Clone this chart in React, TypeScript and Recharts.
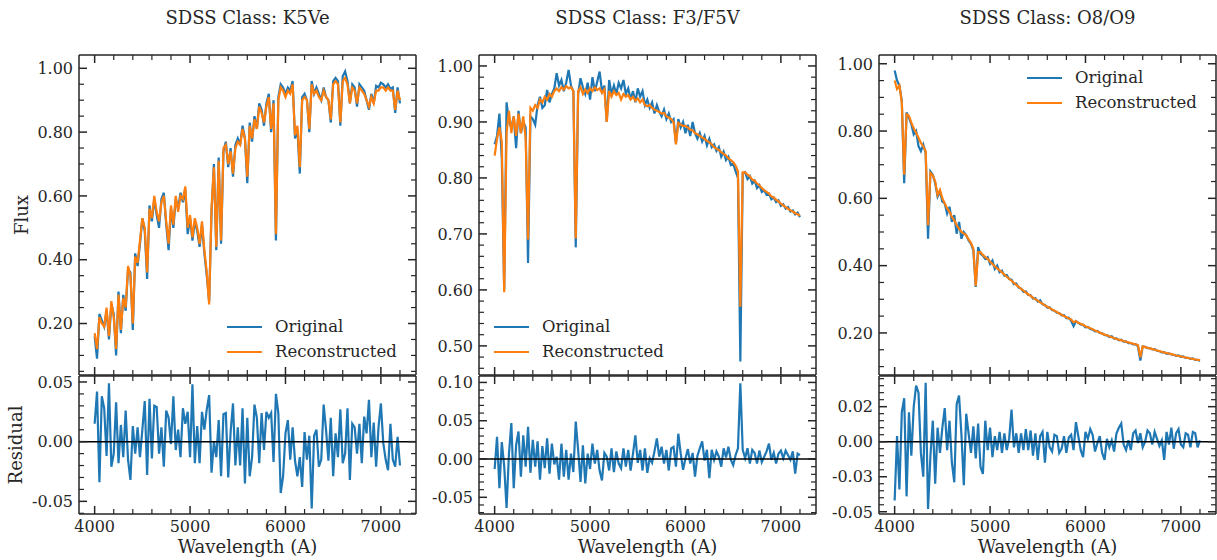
import React from 'react';
import { LineChart, Line, XAxis, YAxis, ReferenceLine, Legend } from 'recharts';

// ---------- data ----------
const wavelength = [
  4000, 4025, 4050, 4075, 4100, 4125, 4150, 4175,
  4200, 4225, 4250, 4275, 4300, 4325, 4350, 4375,
  4400, 4425, 4450, 4475, 4500, 4525, 4550, 4575,
  4600, 4625, 4650, 4675, 4700, 4725, 4750, 4775,
  4800, 4825, 4850, 4875, 4900, 4925, 4950, 4975,
  5000, 5025, 5050, 5075, 5100, 5125, 5150, 5175,
  5200, 5225, 5250, 5275, 5300, 5325, 5350, 5375,
  5400, 5425, 5450, 5475, 5500, 5525, 5550, 5575,
  5600, 5625, 5650, 5675, 5700, 5725, 5750, 5775,
  5800, 5825, 5850, 5875, 5900, 5925, 5950, 5975,
  6000, 6025, 6050, 6075, 6100, 6125, 6150, 6175,
  6200, 6225, 6250, 6275, 6300, 6325, 6350, 6375,
  6400, 6425, 6450, 6475, 6500, 6525, 6550, 6575,
  6600, 6625, 6650, 6675, 6700, 6725, 6750, 6775,
  6800, 6825, 6850, 6875, 6900, 6925, 6950, 6975,
  7000, 7025, 7050, 7075, 7100, 7125, 7150, 7175,
  7200,
];

const k5Original = [
  0.16, 0.09, 0.23, 0.21, 0.19, 0.24, 0.15, 0.26, 0.23, 0.10,
  0.30, 0.17, 0.29, 0.24, 0.37, 0.36, 0.18, 0.42, 0.38, 0.45,
  0.53, 0.49, 0.34, 0.57, 0.52, 0.59, 0.54, 0.50, 0.59, 0.61,
  0.51, 0.43, 0.56, 0.50, 0.59, 0.56, 0.61, 0.58, 0.62, 0.48,
  0.53, 0.46, 0.52, 0.49, 0.44, 0.51, 0.42, 0.35, 0.27, 0.55,
  0.70, 0.43, 0.72, 0.45, 0.74, 0.77, 0.69, 0.75, 0.66, 0.76,
  0.78, 0.76, 0.82, 0.78, 0.64, 0.83, 0.77, 0.85, 0.81, 0.89,
  0.87, 0.82, 0.89, 0.92, 0.80, 0.90, 0.46, 0.91, 0.95, 0.94,
  0.92, 0.94, 0.93, 0.96, 0.78, 0.81, 0.67, 0.91, 0.92, 0.90,
  0.80, 0.96, 0.92, 0.94, 0.92, 0.90, 0.94, 0.91, 0.90, 0.83,
  0.96, 0.97, 0.96, 0.82, 0.975, 0.99, 0.96, 0.89, 0.95, 0.94,
  0.88, 0.95, 0.94, 0.93, 0.90, 0.87, 0.92, 0.89, 0.945, 0.94,
  0.955, 0.95, 0.94, 0.95, 0.935, 0.94, 0.86, 0.94, 0.89,
];
const k5Reconstructed = [
  0.17, 0.12, 0.22, 0.20, 0.19, 0.25, 0.16, 0.27, 0.22, 0.12,
  0.29, 0.18, 0.28, 0.25, 0.38, 0.35, 0.20, 0.41, 0.39, 0.46,
  0.53, 0.50, 0.36, 0.56, 0.53, 0.60, 0.55, 0.52, 0.58, 0.60,
  0.52, 0.45, 0.57, 0.51, 0.60, 0.55, 0.60, 0.59, 0.63, 0.50,
  0.54, 0.47, 0.53, 0.50, 0.45, 0.52, 0.43, 0.36, 0.26, 0.56,
  0.69, 0.44, 0.71, 0.46, 0.75, 0.76, 0.70, 0.74, 0.67, 0.75,
  0.77, 0.76, 0.81, 0.78, 0.66, 0.82, 0.78, 0.84, 0.81, 0.88,
  0.86, 0.83, 0.88, 0.91, 0.81, 0.89, 0.48, 0.90, 0.94, 0.93,
  0.91, 0.93, 0.92, 0.95, 0.79, 0.82, 0.69, 0.90, 0.91, 0.90,
  0.81, 0.95, 0.92, 0.93, 0.91, 0.90, 0.93, 0.91, 0.90, 0.84,
  0.95, 0.96, 0.95, 0.83, 0.96, 0.97, 0.95, 0.89, 0.94, 0.93,
  0.89, 0.94, 0.93, 0.92, 0.90, 0.88, 0.91, 0.89, 0.93, 0.93,
  0.94, 0.94, 0.93, 0.94, 0.93, 0.93, 0.87, 0.93, 0.90,
];
const k5Residual = [
  0.015, 0.042, -0.034, 0.038, 0.028, -0.012, 0.049, -0.021, -0.010, 0.033,
  -0.018, 0.014, -0.013, 0.026, -0.015, -0.032, 0.013, -0.010, 0.012, -0.013,
  0.010, 0.034, -0.028, 0.036, -0.014, 0.030, 0.029, -0.010, 0.012, -0.021,
  0.026, 0.020, -0.002, 0.038, -0.007, 0.010, -0.013, 0.028, 0.015, 0.025,
  -0.013, 0.048, -0.018, 0.013, -0.018, 0.025, 0.010, 0.027, 0.039, -0.026,
  0.000, -0.013, 0.018, -0.029, 0.023, 0.024, -0.030, 0.008, 0.032, -0.020,
  0.012, -0.020, 0.028, -0.035, 0.020, -0.029, -0.013, 0.031, 0.020, -0.018,
  0.024, -0.007, 0.025, 0.020, 0.024, -0.017, 0.040, 0.024, -0.043, -0.029,
  0.007, 0.018, -0.015, 0.012, -0.016, -0.029, -0.013, -0.038, 0.008, -0.015,
  0.005, -0.056, 0.005, 0.010, -0.021, -0.015, 0.031, 0.010, -0.016, 0.020,
  -0.029, 0.007, -0.013, 0.027, -0.018, -0.010, 0.028, -0.032, 0.015, 0.012,
  -0.010, 0.015, -0.018, 0.021, 0.007, 0.035, -0.013, 0.016, -0.021, 0.012,
  0.032, -0.001, -0.015, -0.024, 0.015, -0.015, -0.021, 0.004, -0.020,
];

const f3Original = [
  0.86, 0.875, 0.915, 0.835, 0.60, 0.935, 0.90, 0.89, 0.91, 0.853,
  0.92, 0.88, 0.90, 0.89, 0.648, 0.91, 0.905, 0.895, 0.93, 0.945,
  0.925, 0.93, 0.957, 0.935, 0.95, 0.96, 0.987, 0.965, 0.975, 0.955,
  0.97, 0.993, 0.965, 0.955, 0.676, 0.95, 0.978, 0.962, 0.95, 0.97,
  0.94, 0.98, 0.955, 0.972, 0.99, 0.955, 0.965, 0.90, 0.975, 0.95,
  0.965, 0.95, 0.97, 0.96, 0.975, 0.95, 0.96, 0.94, 0.955, 0.935,
  0.96, 0.945, 0.955, 0.93, 0.94, 0.925, 0.935, 0.915, 0.93, 0.918,
  0.91, 0.922, 0.905, 0.915, 0.90, 0.905, 0.862, 0.905, 0.89, 0.90,
  0.88, 0.895, 0.875, 0.90, 0.88, 0.87, 0.88, 0.865, 0.875, 0.858,
  0.87, 0.855, 0.86, 0.848, 0.855, 0.838, 0.847, 0.832, 0.838, 0.823,
  0.826, 0.812, 0.80, 0.472, 0.808, 0.81, 0.798, 0.803, 0.79, 0.795,
  0.782, 0.787, 0.775, 0.778, 0.77, 0.772, 0.762, 0.765, 0.757, 0.76,
  0.75, 0.753, 0.745, 0.748, 0.74, 0.742, 0.735, 0.738, 0.73,
];
const f3Reconstructed = [
  0.84, 0.87, 0.89, 0.865, 0.596, 0.88, 0.92, 0.88, 0.91, 0.875,
  0.915, 0.88, 0.91, 0.87, 0.69, 0.925, 0.92, 0.93, 0.925, 0.94,
  0.935, 0.945, 0.94, 0.95, 0.945, 0.955, 0.96, 0.955, 0.962, 0.958,
  0.964, 0.96, 0.962, 0.955, 0.692, 0.955, 0.962, 0.95, 0.958, 0.952,
  0.96, 0.955, 0.962, 0.957, 0.96, 0.952, 0.958, 0.90, 0.955, 0.945,
  0.955, 0.948, 0.952, 0.94, 0.95, 0.945, 0.948, 0.94, 0.945, 0.938,
  0.942, 0.935, 0.94, 0.93, 0.928, 0.93, 0.925, 0.922, 0.92, 0.918,
  0.915, 0.916, 0.91, 0.908, 0.905, 0.90, 0.86, 0.898, 0.895, 0.893,
  0.893, 0.89, 0.886, 0.885, 0.88, 0.878, 0.875, 0.872, 0.87, 0.866,
  0.864, 0.86, 0.855, 0.852, 0.85, 0.846, 0.843, 0.84, 0.835, 0.832,
  0.828, 0.822, 0.812, 0.57, 0.81, 0.81, 0.806, 0.803, 0.797, 0.795,
  0.79, 0.787, 0.782, 0.778, 0.775, 0.772, 0.767, 0.765, 0.761, 0.758,
  0.754, 0.751, 0.748, 0.745, 0.742, 0.74, 0.737, 0.735, 0.733,
];
const f3Residual = [
  -0.013, 0.029, -0.038, 0.022, -0.009, -0.064, 0.007, 0.047, -0.038, 0.018,
  0.036, -0.023, 0.031, -0.010, 0.042, -0.018, 0.025, -0.010, 0.023, -0.027,
  0.017, -0.012, 0.027, -0.019, 0.020, -0.007, 0.003, -0.027, 0.020, -0.023,
  0.012, -0.027, 0.007, -0.017, 0.049, 0.012, -0.030, 0.018, -0.032, 0.007,
  -0.013, 0.020, -0.006, 0.012, -0.015, -0.028, 0.008, 0.003, -0.015, 0.014,
  -0.017, 0.010, -0.006, -0.012, 0.014, -0.010, 0.012, -0.015, 0.007, 0.031,
  -0.005, 0.012, -0.015, 0.014, -0.018, 0.001, -0.005, 0.010, 0.027, 0.003,
  0.016, -0.006, 0.012, -0.015, 0.014, 0.016, -0.010, 0.033, 0.007, -0.014,
  0.001, 0.013, -0.006, 0.008, -0.023, 0.004, 0.014, 0.023, -0.002, 0.012,
  -0.025, 0.012, -0.001, 0.010, 0.003, -0.010, 0.014, 0.002, 0.016, -0.001,
  -0.008, 0.005, 0.014, 0.099, 0.012, 0.001, 0.014, -0.006, 0.012, 0.008,
  -0.006, 0.011, -0.004, 0.003, 0.010, 0.020, -0.001, 0.008, -0.006, 0.007,
  0.011, 0.001, 0.011, 0.005, -0.001, 0.010, -0.019, 0.007, 0.005,
];

const o8Original = [
  0.98, 0.95, 0.935, 0.89, 0.645, 0.855, 0.84, 0.82, 0.79, 0.80,
  0.755, 0.74, 0.76, 0.735, 0.48, 0.68, 0.67, 0.645, 0.605, 0.62,
  0.59, 0.585, 0.555, 0.575, 0.53, 0.55, 0.495, 0.53, 0.48, 0.50,
  0.49, 0.475, 0.465, 0.445, 0.337, 0.455, 0.435, 0.43, 0.42, 0.425,
  0.405, 0.415, 0.39, 0.40, 0.38, 0.385, 0.37, 0.372, 0.36, 0.358,
  0.345, 0.347, 0.335, 0.332, 0.322, 0.323, 0.313, 0.312, 0.302, 0.303,
  0.293, 0.297, 0.285, 0.283, 0.275, 0.276, 0.268, 0.266, 0.26, 0.259,
  0.252, 0.253, 0.244, 0.245, 0.236, 0.22, 0.235, 0.23, 0.225, 0.224,
  0.217, 0.218, 0.212, 0.21, 0.205, 0.206, 0.2, 0.199, 0.194, 0.193,
  0.188, 0.19, 0.183, 0.184, 0.178, 0.18, 0.174, 0.175, 0.17, 0.17,
  0.166, 0.167, 0.16, 0.118, 0.16, 0.159, 0.155, 0.155, 0.151, 0.152,
  0.147, 0.146, 0.142, 0.143, 0.138, 0.139, 0.136, 0.135, 0.132, 0.133,
  0.129, 0.13, 0.126, 0.126, 0.123, 0.124, 0.12, 0.12, 0.117,
];
const o8Reconstructed = [
  0.95, 0.925, 0.935, 0.885, 0.67, 0.85, 0.845, 0.825, 0.808, 0.795,
  0.78, 0.765, 0.755, 0.74, 0.52, 0.675, 0.668, 0.65, 0.61, 0.625,
  0.60, 0.585, 0.57, 0.56, 0.545, 0.535, 0.52, 0.51, 0.50, 0.495,
  0.49, 0.478, 0.468, 0.45, 0.34, 0.44, 0.44, 0.432, 0.425, 0.42,
  0.412, 0.405, 0.398, 0.392, 0.386, 0.38, 0.373, 0.367, 0.361, 0.355,
  0.349, 0.343, 0.337, 0.331, 0.326, 0.32, 0.315, 0.31, 0.305, 0.30,
  0.296, 0.291, 0.287, 0.282, 0.278, 0.274, 0.27, 0.266, 0.262, 0.258,
  0.254, 0.25, 0.247, 0.243, 0.24, 0.232, 0.235, 0.23, 0.227, 0.224,
  0.22, 0.217, 0.214, 0.211, 0.207, 0.204, 0.201, 0.198, 0.195, 0.193,
  0.19, 0.187, 0.185, 0.182, 0.18, 0.178, 0.176, 0.174, 0.172, 0.17,
  0.168, 0.166, 0.164, 0.128, 0.16, 0.158, 0.156, 0.154, 0.152, 0.15,
  0.148, 0.146, 0.144, 0.142, 0.14, 0.139, 0.137, 0.135, 0.133, 0.132,
  0.13, 0.129, 0.127, 0.126, 0.124, 0.123, 0.121, 0.12, 0.119,
];
const o8Residual = [
  -0.042, 0.004, -0.034, 0.021, 0.031, -0.039, 0.021, -0.010, 0.025, 0.040,
  0.035, -0.008, -0.025, 0.042, -0.048, -0.010, 0.015, -0.030, 0.010, -0.008,
  0.010, 0.024, -0.006, 0.015, -0.015, -0.029, 0.027, 0.033, 0.005, -0.031,
  0.020, 0.006, -0.008, 0.011, -0.012, 0.013, -0.018, -0.023, 0.015, -0.006,
  0.010, -0.011, 0.004, -0.006, 0.007, -0.008, 0.006, -0.006, 0.002, 0.023,
  -0.004, 0.006, -0.008, 0.006, -0.006, 0.009, -0.006, 0.008, -0.010, 0.006,
  -0.013, 0.004, 0.007, -0.015, 0.007, -0.004, -0.007, 0.005, 0.004, -0.008,
  -0.005, 0.004, -0.008, 0.003, 0.005, -0.006, 0.014, 0.004, -0.006, -0.011,
  0.007, 0.002, 0.009, 0.005, -0.007, -0.001, 0.004, -0.008, -0.013, 0.002,
  -0.004, 0.001, -0.007, 0.006, 0.010, 0.013, -0.002, -0.006, 0.001, -0.006,
  0.006, 0.008, -0.001, 0.006, -0.004, 0.000, 0.008, 0.006, -0.002, 0.007,
  0.002, -0.003, 0.001, -0.013, 0.007, -0.002, 0.010, -0.005, 0.006, 0.009,
  -0.002, -0.004, 0.006, 0.005, -0.004, 0.007, 0.006, -0.004, 0.001,
];

// ---------- ticks ----------
const xMajor = [4000, 5000, 6000, 7000];
const xLabels = ['4000', '5000', '6000', '7000'];
const xTicks = [4000, 4200, 4400, 4600, 4800, 5000, 5200, 5400, 5600, 5800, 6000, 6200, 6400, 6600, 6800, 7000, 7200];

const k5FluxMajor = [0.2, 0.4, 0.6, 0.8, 1.0];
const k5FluxLabels = ['0.20', '0.40', '0.60', '0.80', '1.00'];
const k5FluxTicks = [0.05, 0.1, 0.15, 0.2, 0.25, 0.3, 0.35, 0.4, 0.45, 0.5, 0.55, 0.6, 0.65, 0.7, 0.75, 0.8, 0.85, 0.9, 0.95, 1.0];
const k5ResMajor = [-0.05, 0, 0.05];
const k5ResLabels = ['-0.05', '0.00', '0.05'];
const k5ResTicks = [-0.06, -0.05, -0.04, -0.03, -0.02, -0.01, 0, 0.01, 0.02, 0.03, 0.04, 0.05];

const f3FluxMajor = [0.5, 0.6, 0.7, 0.8, 0.9, 1.0];
const f3FluxLabels = ['0.50', '0.60', '0.70', '0.80', '0.90', '1.00'];
const f3FluxTicks = [0.46, 0.48, 0.5, 0.52, 0.54, 0.56, 0.58, 0.6, 0.62, 0.64, 0.66, 0.68, 0.7, 0.72, 0.74, 0.76, 0.78, 0.8, 0.82, 0.84, 0.86, 0.88, 0.9, 0.92, 0.94, 0.96, 0.98, 1.0];
const f3ResMajor = [-0.05, 0, 0.05, 0.1];
const f3ResLabels = ['-0.05', '0.00', '0.05', '0.10'];
const f3ResTicks = [-0.07, -0.06, -0.05, -0.04, -0.03, -0.02, -0.01, 0, 0.01, 0.02, 0.03, 0.04, 0.05, 0.06, 0.07, 0.08, 0.09, 0.1];

const o8FluxMajor = [0.2, 0.4, 0.6, 0.8, 1.0];
const o8FluxLabels = ['0.20', '0.40', '0.60', '0.80', '1.00'];
const o8FluxTicks = [0.1, 0.15, 0.2, 0.25, 0.3, 0.35, 0.4, 0.45, 0.5, 0.55, 0.6, 0.65, 0.7, 0.75, 0.8, 0.85, 0.9, 0.95, 1.0];
const o8ResMajor = [-0.05, -0.025, 0, 0.025];
const o8ResLabels = ['-0.05', '-0.03', '0.00', '0.02'];
const o8ResTicks = [-0.05, -0.045, -0.04, -0.035, -0.03, -0.025, -0.02, -0.015, -0.01, -0.005, 0, 0.005, 0.01, 0.015, 0.02, 0.025, 0.03, 0.035, 0.04, 0.045];

// ---------- style ----------
const FONT = '"DejaVu Serif", "Liberation Serif", serif';
const INK = '#262626';
const BLUE = '#1f77b4';
const ORANGE = '#ff7f0e';
const LINE_W = 2.2;
const X_DOMAIN: [number, number] = [3836, 7368];
const AXIS_LINE = { stroke: INK, strokeWidth: 1.5 };

type Side = 'left' | 'right' | 'top' | 'bottom';

function makeTick(side: Side, majors: number[], labels: string[] | null) {
  return (props: any) => {
    const x = Number(props.x);
    const y = Number(props.y);
    const v = props.payload.value;
    let idx = -1;
    for (let i = 0; i < majors.length; i++) if (Math.abs(majors[i] - v) < 1e-9) idx = i;
    const major = idx >= 0;
    const len = major ? 8 : 5;
    let x2 = x;
    let y2 = y;
    if (side === 'left') x2 = x + len;
    else if (side === 'right') x2 = x - len;
    else if (side === 'top') y2 = y + len;
    else y2 = y - len;
    const lab = labels && major ? labels[idx] : null;
    return (
      <g>
        <line x1={x} y1={y} x2={x2} y2={y2} stroke={INK} strokeWidth={major ? 1.5 : 1.2} />
        {lab && side === 'left' ? (
          <text x={x - 6} y={y} dy="0.36em" textAnchor="end" fontFamily={FONT} fontSize={16} fill={INK}>{lab}</text>
        ) : null}
        {lab && side === 'bottom' ? (
          <text x={x} y={y + 18} textAnchor="middle" fontFamily={FONT} fontSize={16} fill={INK}>{lab}</text>
        ) : null}
      </g>
    );
  };
}

function frameAxes(
  yDomain: [number, number], yTicks: number[], yMajor: number[], yLabels: string[],
  bottomLabels: boolean, bottomHeight: number,
) {
  return [
    <XAxis key="xb" xAxisId="b" dataKey="w" type="number" orientation="bottom" domain={X_DOMAIN} allowDataOverflow
      ticks={xTicks} interval={0} height={bottomHeight} tickLine={false} tickSize={0} tickMargin={0}
      axisLine={AXIS_LINE} tick={makeTick('bottom', xMajor, bottomLabels ? xLabels : null)} />,
    <XAxis key="xt" xAxisId="t" dataKey="w" type="number" orientation="top" domain={X_DOMAIN} allowDataOverflow
      ticks={xTicks} interval={0} height={1} tickLine={false} tickSize={0} tickMargin={0}
      axisLine={AXIS_LINE} tick={makeTick('top', xMajor, null)} />,
    <YAxis key="yl" yAxisId="l" type="number" orientation="left" domain={yDomain} allowDataOverflow
      ticks={yTicks} interval={0} width={79} tickLine={false} tickSize={0} tickMargin={0}
      axisLine={AXIS_LINE} tick={makeTick('left', yMajor, yLabels)} />,
    <YAxis key="yr" yAxisId="r" type="number" orientation="right" domain={yDomain} allowDataOverflow
      ticks={yTicks} interval={0} width={1} tickLine={false} tickSize={0} tickMargin={0}
      axisLine={AXIS_LINE} tick={makeTick('right', yMajor, null)} />,
  ];
}

const renderLegend = (props: any) => (
  <div style={{ fontFamily: FONT, fontSize: 16.5, color: INK }}>
    {(props.payload || []).map((p: any) => (
      <div key={p.value} style={{ display: 'flex', alignItems: 'center', height: 25, whiteSpace: 'nowrap' }}>
        <svg width={35} height={4} style={{ marginRight: 13 }}>
          <line x1={0} y1={2} x2={35} y2={2} stroke={p.color} strokeWidth={2.2} />
        </svg>
        <span>{p.value}</span>
      </div>
    ))}
  </div>
);

type Col = {
  left: number; title: string;
  orig: number[]; recon: number[]; resid: number[];
  fluxDomain: [number, number]; fluxTicks: number[]; fluxMajor: number[]; fluxLabels: string[];
  resDomain: [number, number]; resTicks: number[]; resMajor: number[]; resLabels: string[];
  legend: { left: number; top: number };
};

const columns: Col[] = [
  {
    left: 0, title: 'SDSS Class: K5Ve', orig: k5Original, recon: k5Reconstructed, resid: k5Residual,
    fluxDomain: [0.0386, 1.0417], fluxTicks: k5FluxTicks, fluxMajor: k5FluxMajor, fluxLabels: k5FluxLabels,
    resDomain: [-0.0606, 0.055], resTicks: k5ResTicks, resMajor: k5ResMajor, resLabels: k5ResLabels,
    legend: { left: 227, top: 314 },
  },
  {
    left: 400, title: 'SDSS Class: F3/F5V', orig: f3Original, recon: f3Reconstructed, resid: f3Residual,
    fluxDomain: [0.448, 1.0196], fluxTicks: f3FluxTicks, fluxMajor: f3FluxMajor, fluxLabels: f3FluxLabels,
    resDomain: [-0.0718, 0.1084], resTicks: f3ResTicks, resMajor: f3ResMajor, resLabels: f3ResLabels,
    legend: { left: 94, top: 314 },
  },
  {
    left: 800, title: 'SDSS Class: O8/O9', orig: o8Original, recon: o8Reconstructed, resid: o8Residual,
    fluxDomain: [0.075, 1.026], fluxTicks: o8FluxTicks, fluxMajor: o8FluxMajor, fluxLabels: o8FluxLabels,
    resDomain: [-0.0516, 0.0469], resTicks: o8ResTicks, resMajor: o8ResMajor, resLabels: o8ResLabels,
    legend: { left: 227, top: 65 },
  },
];

const textStyle: React.CSSProperties = { position: 'absolute', fontFamily: FONT, color: INK, fontSize: 18, lineHeight: '18px', whiteSpace: 'nowrap' };

function Column({ col }: { col: Col }) {
  const fluxData = wavelength.map((w, i) => ({ w, orig: col.orig[i], recon: col.recon[i] }));
  const resData = wavelength.map((w, i) => ({ w, resid: col.resid[i] }));
  return (
    <>
      <div style={{ ...textStyle, left: col.left + 79, width: 337, top: 9, textAlign: 'center' }}>{col.title}</div>
      <div style={{ position: 'absolute', left: col.left, top: 0 }}>
        <LineChart width={420} height={380} data={fluxData} margin={{ top: 54, right: 3, bottom: 4, left: 0 }}>
          {frameAxes(col.fluxDomain, col.fluxTicks, col.fluxMajor, col.fluxLabels, false, 1)}
          <Line xAxisId="b" yAxisId="l" type="linear" dataKey="orig" name="Original" stroke={BLUE} strokeWidth={LINE_W} strokeLinejoin="miter" dot={false} activeDot={false} isAnimationActive={false} />
          <Line xAxisId="b" yAxisId="l" type="linear" dataKey="recon" name="Reconstructed" stroke={ORANGE} strokeWidth={LINE_W} strokeLinejoin="miter" dot={false} activeDot={false} isAnimationActive={false} />
          <Legend layout="vertical" align="center" verticalAlign="middle" content={renderLegend}
            wrapperStyle={{ left: col.legend.left, top: col.legend.top, width: 'auto', height: 'auto' }} />
        </LineChart>
      </div>
      <div style={{ position: 'absolute', left: col.left, top: 370 }}>
        <LineChart width={420} height={190} data={resData} margin={{ top: 5, right: 3, bottom: 0, left: 0 }}>
          {frameAxes(col.resDomain, col.resTicks, col.resMajor, col.resLabels, true, 46)}
          <Line xAxisId="b" yAxisId="l" type="linear" dataKey="resid" name="Residual" stroke={BLUE} strokeWidth={LINE_W} strokeLinejoin="miter" dot={false} activeDot={false} isAnimationActive={false} />
          <ReferenceLine xAxisId="b" yAxisId="l" y={0} stroke="#000" strokeWidth={1.5} />
        </LineChart>
      </div>
      <div style={{ ...textStyle, left: col.left + 79, width: 337, top: 538, textAlign: 'center' }}>Wavelength (A)</div>
    </>
  );
}

export default function App() {
  return (
    <div style={{ position: 'absolute', left: 0, top: 0, width: 1217, height: 560, overflow: 'hidden', background: '#fff' }}>
      {columns.map((c) => <Column key={c.title} col={c} />)}
      <div style={{ ...textStyle, left: 22, top: 215, transform: 'translate(-50%, -50%) rotate(-90deg)' }}>Flux</div>
      <div style={{ ...textStyle, left: 16, top: 445, transform: 'translate(-50%, -50%) rotate(-90deg)' }}>Residual</div>
    </div>
  );
}
